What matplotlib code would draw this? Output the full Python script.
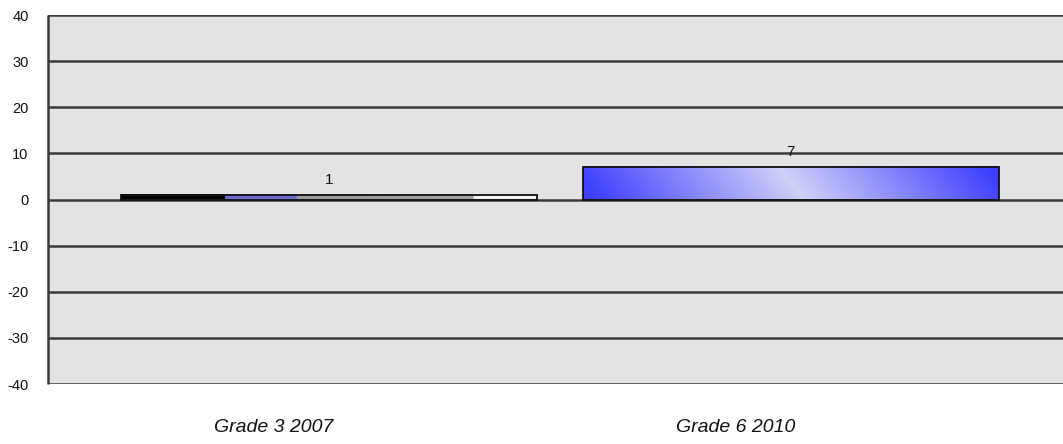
import numpy as np
import matplotlib
matplotlib.use("Agg")
import matplotlib.pyplot as plt
from matplotlib.colors import LinearSegmentedColormap

categories = ["Grade 3 2007", "Grade 6 2010"]
values = [1, 7]
yticks = [-40, -30, -20, -10, 0, 10, 20, 30, 40]

plt.rcParams['font.family'] = ['Liberation Sans', 'DejaVu Sans']

W, H = 1063, 444
fig = plt.figure(figsize=(W / 100, H / 100), dpi=100)
ax = fig.add_axes([48 / W, 1 - 384 / H, (W - 48) / W, (384 - 15) / H])
ax.set_facecolor('#E3E3E3')

x = np.arange(len(categories))
bw = 0.9

for yv in yticks:
    ax.axhline(yv, color='#3A3A3A', lw=1.8, zorder=1)

cm1 = LinearSegmentedColormap.from_list('c1', [
    (0.0, '#000000'), (0.25, '#000000'), (0.251, '#6A6ACF'), (0.42, '#6A6ACF'),
    (0.421, '#9C9C9C'), (0.85, '#A4A4A4'), (0.851, '#F2F2F2'), (1.0, '#F2F2F2')])
cm2 = LinearSegmentedColormap.from_list('c2', [
    (0.0, '#3F3FFF'), (0.5, '#D0D0F8'), (1.0, '#3F3FFF')])
cmaps = [cm1, cm2]

for i, (xi, v) in enumerate(zip(x, values)):
    x0, x1 = xi - bw / 2, xi + bw / 2
    nx, ny = 400, 40
    gx = np.linspace(0, 1, nx)[None, :]
    gy = np.linspace(0, 1, ny)[:, None]
    if i == 0:
        grad = np.repeat(gx, ny, axis=0)
    else:
        grad = np.clip(gx + (gy - 0.5) * 0.06, 0, 1)
    ax.imshow(grad, extent=(x0, x1, 0, v), origin='lower', cmap=cmaps[i],
              aspect='auto', zorder=2, interpolation='bilinear')
    ax.add_patch(plt.Rectangle((x0, 0), bw, v, fill=False, ec='#111111', lw=1.3, zorder=3))
    ax.text(xi, v + 1.8, str(v), ha='center', va='bottom', fontsize=11, color='#111111', zorder=4)

ax.set_xlim(-0.608, 1.589)
ax.set_ylim(-40, 40)

ax.set_yticks(yticks)
ax.set_yticklabels([str(t) for t in yticks], fontsize=10.5, color='#111111')
ax.tick_params(axis='y', length=0, pad=14)
ax.set_xticks(x - 0.12)
ax.set_xticklabels(categories, fontsize=14, style='italic', color='#111111')
ax.tick_params(axis='x', length=0, pad=25)

for s in ['top', 'right', 'bottom']:
    ax.spines[s].set_visible(False)
ax.spines['left'].set_color('#3A3A3A')
ax.spines['left'].set_linewidth(1.8)
ax.spines['left'].set_capstyle('butt')

fig.savefig('out.png', dpi=100, facecolor='white')
